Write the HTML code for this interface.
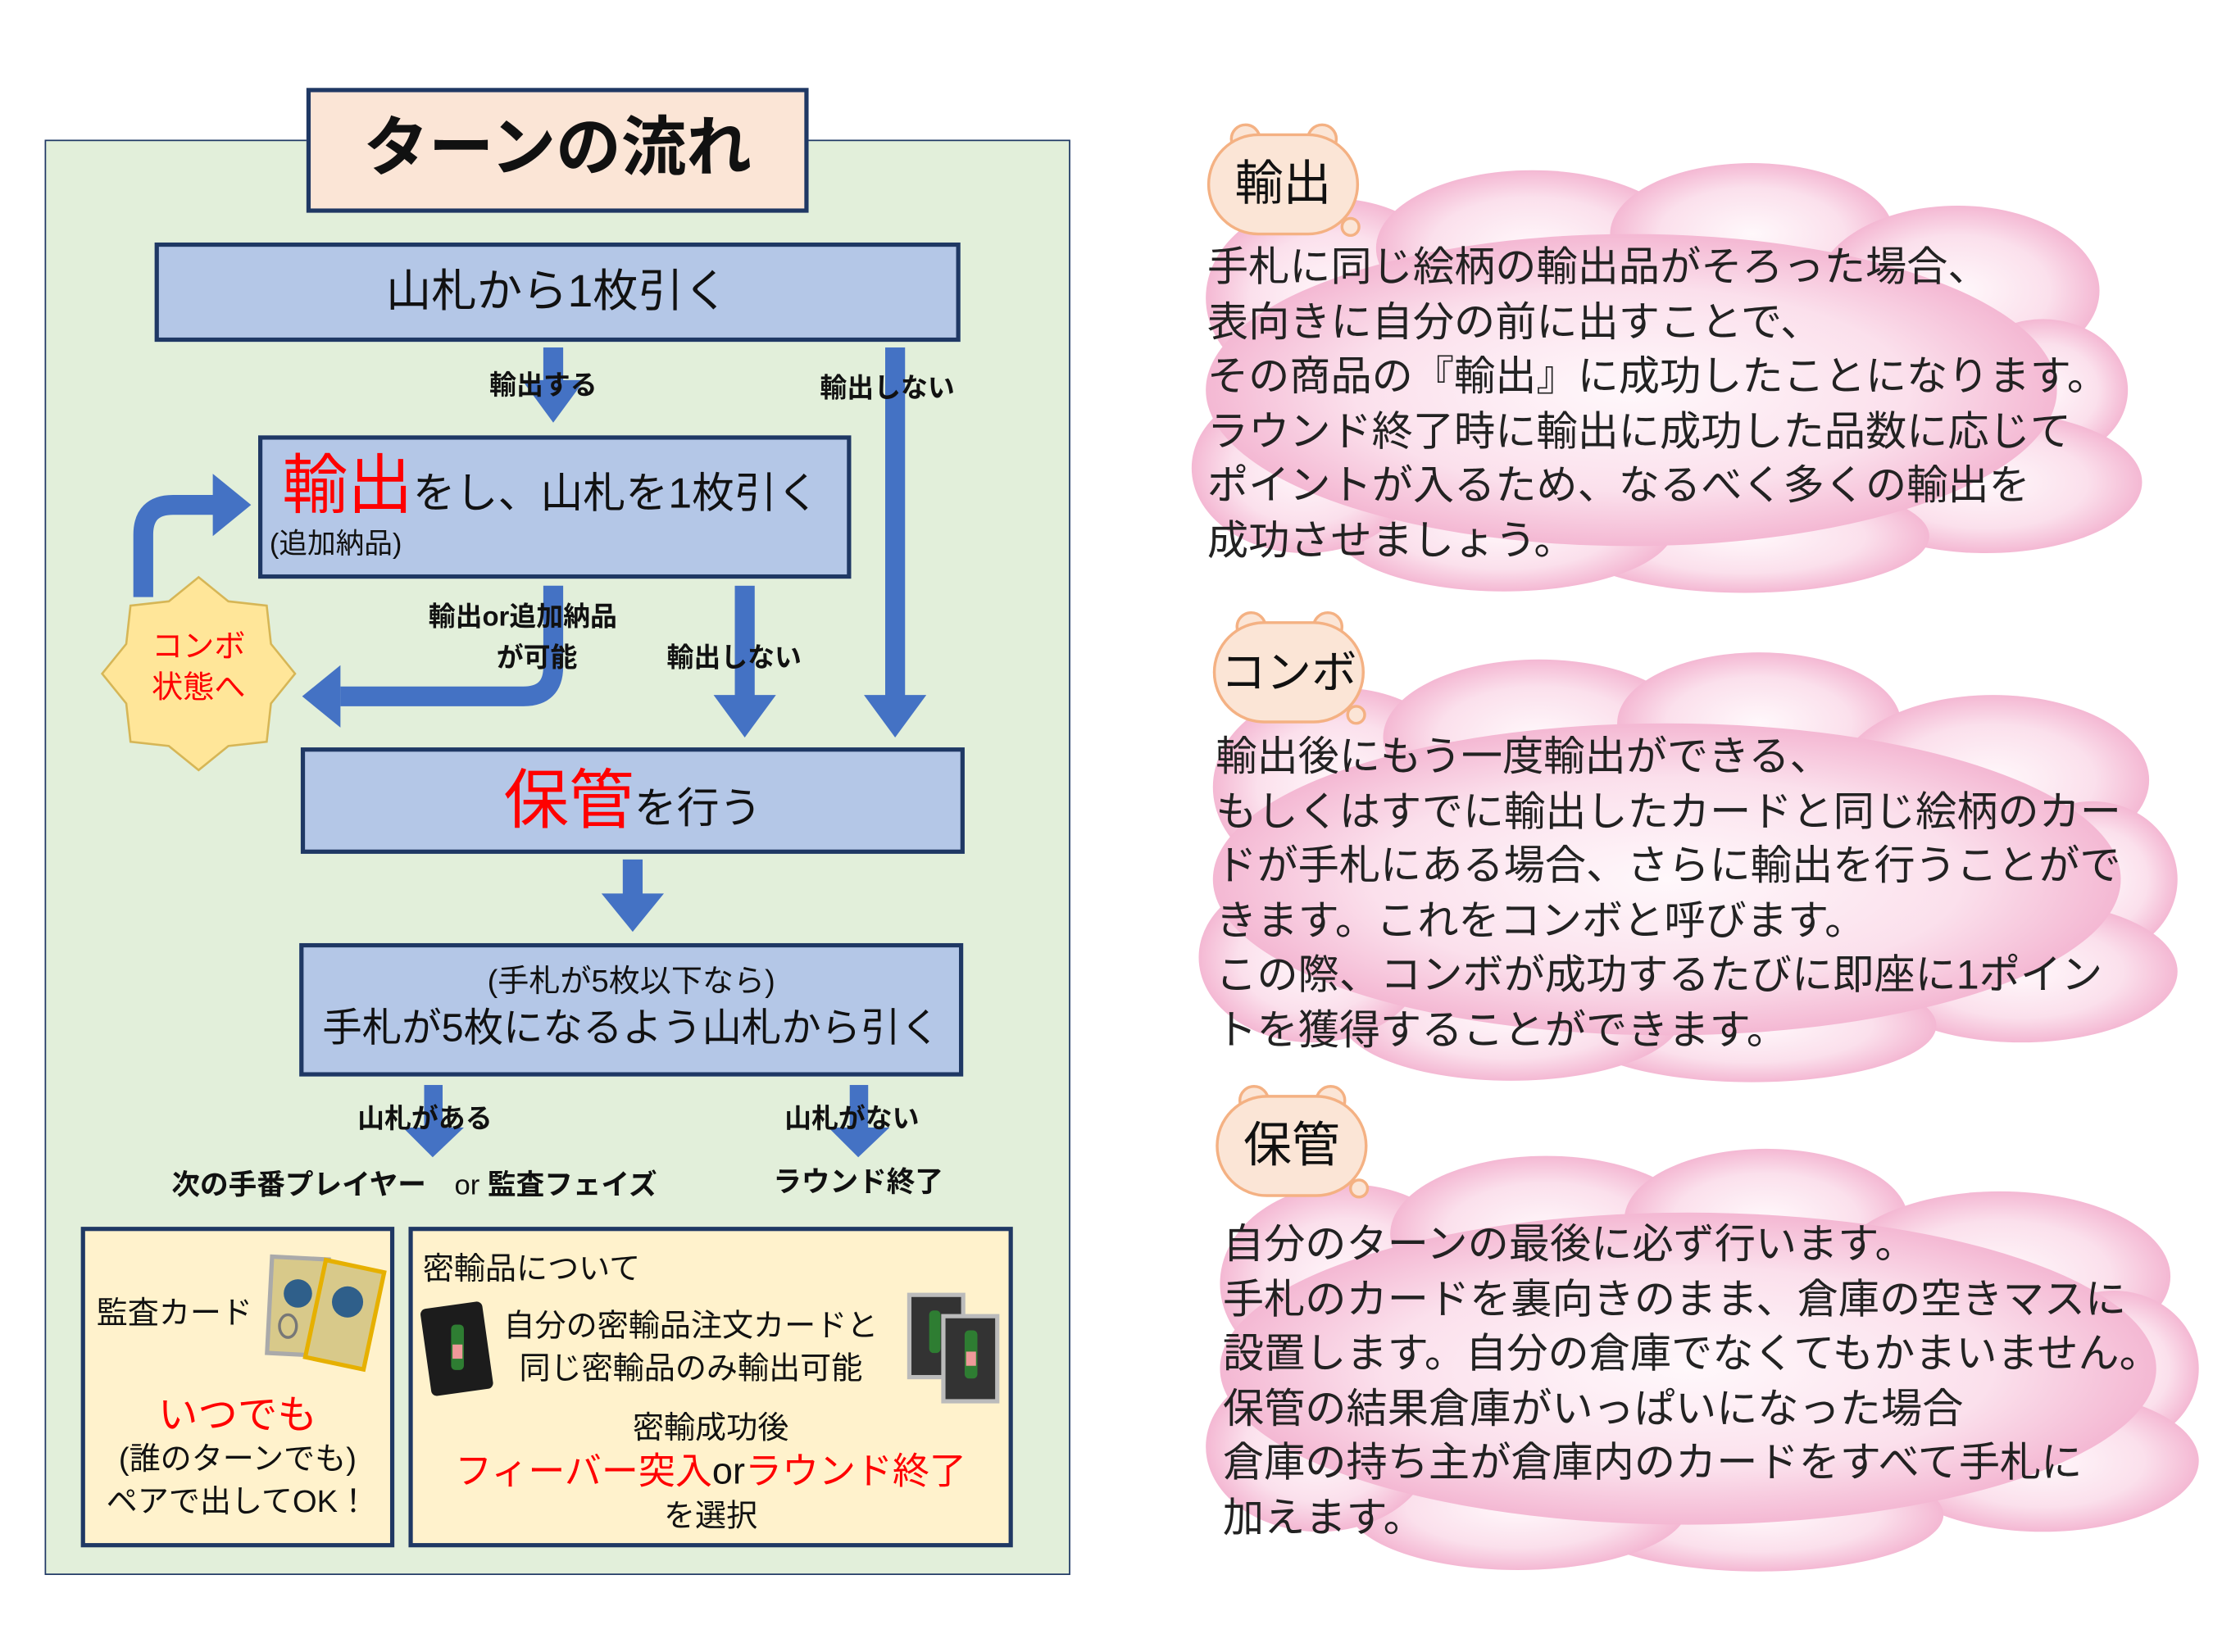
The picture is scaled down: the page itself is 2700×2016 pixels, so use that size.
<!DOCTYPE html>
<html><head><meta charset="utf-8">
<style>
html,body{margin:0;padding:0;background:#fff;}
body{width:2700px;height:2016px;overflow:hidden;position:relative;}
#s{position:absolute;left:0;top:0;width:1560px;height:1165px;transform:scale(1.730769);transform-origin:0 0;font-family:"Liberation Sans","Noto Sans CJK JP",sans-serif;color:#111;}
.a{position:absolute;white-space:nowrap;}
.box{position:absolute;box-sizing:border-box;border:3px solid #1f3864;background:#b4c7e7;}
.lb{position:absolute;white-space:nowrap;font-weight:bold;font-size:19px;}
.r{color:#ff0000;}
.txt{position:absolute;font-size:29px;line-height:38.5px;white-space:nowrap;color:#222;}
</style></head><body>
<div id="s">
<svg width="1560" height="1165" style="position:absolute;left:0;top:0">
<defs>
<radialGradient id="pk" cx="50%" cy="50%" r="50%">
<stop offset="0%" stop-color="#fff8fb"/><stop offset="65%" stop-color="#fbe0ec"/><stop offset="100%" stop-color="#f4b8d3"/>
</radialGradient>
</defs>
<rect x="32" y="99" width="722" height="1011" fill="#e2efda" stroke="#1f3864" stroke-width="1"/>
<g fill="url(#pk)">
<g>
<ellipse cx="940" cy="210" rx="90" ry="70"/><ellipse cx="1080" cy="175" rx="110" ry="55"/><ellipse cx="1235" cy="165" rx="100" ry="50"/><ellipse cx="1380" cy="205" rx="100" ry="60"/><ellipse cx="1440" cy="275" rx="60" ry="50"/><ellipse cx="1400" cy="340" rx="110" ry="50"/><ellipse cx="1230" cy="378" rx="130" ry="40"/><ellipse cx="1060" cy="372" rx="120" ry="45"/><ellipse cx="920" cy="330" rx="80" ry="60"/><ellipse cx="1150" cy="275" rx="300" ry="110"/>
</g>
<g transform="translate(5,345)">
<ellipse cx="940" cy="210" rx="90" ry="70"/><ellipse cx="1080" cy="175" rx="110" ry="55"/><ellipse cx="1235" cy="165" rx="100" ry="50"/><ellipse cx="1400" cy="205" rx="110" ry="60"/><ellipse cx="1470" cy="275" rx="60" ry="55"/><ellipse cx="1420" cy="340" rx="110" ry="50"/><ellipse cx="1230" cy="378" rx="130" ry="40"/><ellipse cx="1060" cy="372" rx="120" ry="45"/><ellipse cx="920" cy="330" rx="80" ry="60"/><ellipse cx="1170" cy="275" rx="320" ry="110"/>
</g>
<g transform="translate(10,690)">
<ellipse cx="940" cy="215" rx="90" ry="70"/><ellipse cx="1080" cy="180" rx="110" ry="55"/><ellipse cx="1235" cy="170" rx="100" ry="50"/><ellipse cx="1400" cy="210" rx="120" ry="60"/><ellipse cx="1480" cy="275" rx="60" ry="55"/><ellipse cx="1430" cy="340" rx="110" ry="50"/><ellipse cx="1230" cy="378" rx="130" ry="40"/><ellipse cx="1060" cy="372" rx="120" ry="45"/><ellipse cx="920" cy="330" rx="80" ry="60"/><ellipse cx="1180" cy="275" rx="330" ry="110"/>
</g>
</g>
<g fill="#fbe5d6" stroke="#f4b183" stroke-width="2">
<g><circle cx="878" cy="98" r="10"/><circle cx="932" cy="98" r="10"/><rect x="852" y="95" width="105" height="70" rx="35"/><circle cx="952" cy="160" r="6"/></g>
<g transform="translate(4,344)"><circle cx="878" cy="98" r="10"/><circle cx="932" cy="98" r="10"/><rect x="852" y="95" width="105" height="70" rx="35"/><circle cx="952" cy="160" r="6"/></g>
<g transform="translate(6,678)"><circle cx="878" cy="98" r="10"/><circle cx="932" cy="98" r="10"/><rect x="852" y="95" width="105" height="70" rx="35"/><circle cx="952" cy="160" r="6"/></g>
</g>
<g fill="#4472c4">
<rect x="383" y="245" width="14" height="24"/><polygon points="368,268 412,268 390,298"/>
<rect x="624" y="245" width="14" height="246"/><polygon points="609,490 653,490 631,520"/>
<rect x="518" y="413" width="14" height="78"/><polygon points="503,490 547,490 525,520"/>
<rect x="439" y="606" width="14" height="25"/><polygon points="424,630 468,630 446,657"/>
<rect x="299" y="765" width="13" height="31"/><polygon points="284,795 327,795 305,816"/>
<rect x="599" y="765" width="13" height="31"/><polygon points="584,795 627,795 605,816"/>
<polygon points="240,469 240,513 213,491"/>
<polygon points="150,334 150,378 177,356"/>
</g>
<g fill="none" stroke="#4472c4" stroke-width="14">
<path d="M390,413 L390,470 Q390,491 369,491 L240,491"/>
<path d="M101,421 L101,377 Q101,356 122,356 L151,356"/>
</g>
<polygon fill="#ffe699" stroke="#d6b656" stroke-width="1.5" points="140,407 161,424 188,427 191,454 208,475 191,496 188,523 161,526 140,543 119,526 92,523 89,496 72,475 89,454 92,427 119,424"/>
</svg>

<div class="box" style="left:216px;top:62px;width:354px;height:88px;background:#fbe5d6;"></div>
<div class="a" style="left:216px;top:72px;width:354px;text-align:center;font-size:46px;font-weight:bold;line-height:64px;">ターンの流れ</div>

<div class="box" style="left:109px;top:171px;width:568px;height:70px;"></div>
<div class="a" style="left:109px;top:184px;width:568px;text-align:center;font-size:32px;line-height:42px;">山札から1枚引く</div>

<div class="lb" style="left:345px;top:257px;">輸出する</div>
<div class="lb" style="left:578px;top:259px;">輸出しない</div>

<div class="box" style="left:182px;top:307px;width:418px;height:101px;"></div>
<div class="a" style="left:199px;top:312px;font-size:30px;line-height:60px;"><span class="r" style="font-size:46px;">輸出</span>をし、山札を1枚引く</div>
<div class="a" style="left:190px;top:370px;font-size:20px;line-height:28px;">(追加納品)</div>

<div class="a r" style="left:72px;top:441px;width:136px;text-align:center;font-size:22px;line-height:29px;">コンボ<br>状態へ</div>

<div class="lb" style="left:302px;top:420px;">輸出or追加納品</div>
<div class="lb" style="left:350px;top:449px;">が可能</div>
<div class="lb" style="left:470px;top:449px;">輸出しない</div>

<div class="box" style="left:212px;top:527px;width:468px;height:75px;"></div>
<div class="a" style="left:212px;top:534px;width:468px;text-align:center;font-size:30px;line-height:60px;"><span class="r" style="font-size:46px;">保管</span>を行う</div>

<div class="box" style="left:211px;top:665px;width:468px;height:94px;"></div>
<div class="a" style="left:211px;top:677px;width:468px;text-align:center;font-size:22px;line-height:30px;">(手札が5枚以下なら)</div>
<div class="a" style="left:211px;top:706px;width:468px;text-align:center;font-size:28px;line-height:38px;">手札が5枚になるよう山札から引く</div>

<div class="lb" style="left:252px;top:774px;">山札がある</div>
<div class="lb" style="left:553px;top:774px;">山札がない</div>
<div class="lb" style="left:121px;top:819px;font-size:20px;">次の手番プレイヤー　<span style="font-weight:normal">or</span> 監査フェイズ</div>
<div class="lb" style="left:545px;top:817px;font-size:20px;">ラウンド終了</div>

<div class="box" style="left:57px;top:865px;width:221px;height:226px;background:#fff2cc;"></div>
<div class="a" style="left:68px;top:908px;font-size:22px;">監査カード</div>
<div class="a r" style="left:57px;top:980px;width:221px;text-align:center;font-size:28px;line-height:36px;">いつでも</div>
<div class="a" style="left:57px;top:1014px;width:221px;text-align:center;font-size:22px;line-height:30px;">(誰のターンでも)<br>ペアで出してOK！</div>

<div class="box" style="left:288px;top:865px;width:426px;height:226px;background:#fff2cc;"></div>
<div class="a" style="left:298px;top:877px;font-size:22px;">密輸品について</div>
<div class="a" style="left:355px;top:920px;font-size:22px;line-height:30px;text-align:center;">自分の密輸品注文カードと<br>同じ密輸品のみ輸出可能</div>
<div class="a" style="left:288px;top:992px;width:426px;text-align:center;font-size:22px;line-height:30px;">密輸成功後</div>
<div class="a" style="left:288px;top:1020px;width:426px;text-align:center;font-size:26px;line-height:34px;"><span class="r">フィーバー突入</span>or<span class="r">ラウンド終了</span></div>
<div class="a" style="left:288px;top:1054px;width:426px;text-align:center;font-size:22px;line-height:30px;">を選択</div>

<svg width="1560" height="1165" style="position:absolute;left:0;top:0">
<rect x="190" y="887" width="40" height="68" fill="#d8c98a" stroke="#aaa" stroke-width="3" transform="rotate(3 210 921)"/>
<rect x="222" y="892" width="42" height="70" fill="#d8c98a" stroke="#e6b000" stroke-width="3" transform="rotate(12 243 927)"/>
<circle cx="210" cy="912" r="10" fill="#2f5f8a"/><circle cx="245" cy="918" r="11" fill="#2f5f8a"/>
<ellipse cx="203" cy="935" rx="6" ry="8" fill="none" stroke="#777" stroke-width="2"/>
<rect x="300" y="920" width="44" height="62" rx="4" fill="#1c1c1c" transform="rotate(-8 322 951)"/>
<rect x="318" y="934" width="9" height="32" rx="3" fill="#2e7d32"/><rect x="319" y="948" width="7" height="10" fill="#e99"/>
<rect x="641" y="913" width="38" height="58" fill="#333" stroke="#bbb" stroke-width="3"/>
<rect x="665" y="928" width="38" height="60" fill="#333" stroke="#bbb" stroke-width="3"/>
<rect x="655" y="924" width="8" height="30" rx="3" fill="#2e7d32"/><rect x="680" y="938" width="9" height="34" rx="3" fill="#2e7d32"/>
<rect x="681" y="953" width="7" height="10" fill="#e99"/>
</svg>

<div class="a" style="left:852px;top:108px;width:105px;text-align:center;font-size:34px;line-height:44px;">輸出</div>
<div class="a" style="left:856px;top:452px;width:105px;text-align:center;font-size:32px;line-height:44px;">コンボ</div>
<div class="a" style="left:858px;top:786px;width:105px;text-align:center;font-size:34px;line-height:44px;">保管</div>

<div class="txt" style="left:851px;top:170px;">手札に同じ絵柄の輸出品がそろった場合、<br>表向きに自分の前に出すことで、<br>その商品の『輸出』に成功したことになります。<br>ラウンド終了時に輸出に成功した品数に応じて<br>ポイントが入るため、なるべく多くの輸出を<br>成功させましょう。</div>
<div class="txt" style="left:857px;top:515px;">輸出後にもう一度輸出ができる、<br>もしくはすでに輸出したカードと同じ絵柄のカー<br>ドが手札にある場合、さらに輸出を行うことがで<br>きます。これをコンボと呼びます。<br>この際、コンボが成功するたびに即座に1ポイン<br>トを獲得することができます。</div>
<div class="txt" style="left:862px;top:859px;">自分のターンの最後に必ず行います。<br>手札のカードを裏向きのまま、倉庫の空きマスに<br>設置します。自分の倉庫でなくてもかまいません。<br>保管の結果倉庫がいっぱいになった場合<br>倉庫の持ち主が倉庫内のカードをすべて手札に<br>加えます。</div>
</div>
</body></html>
